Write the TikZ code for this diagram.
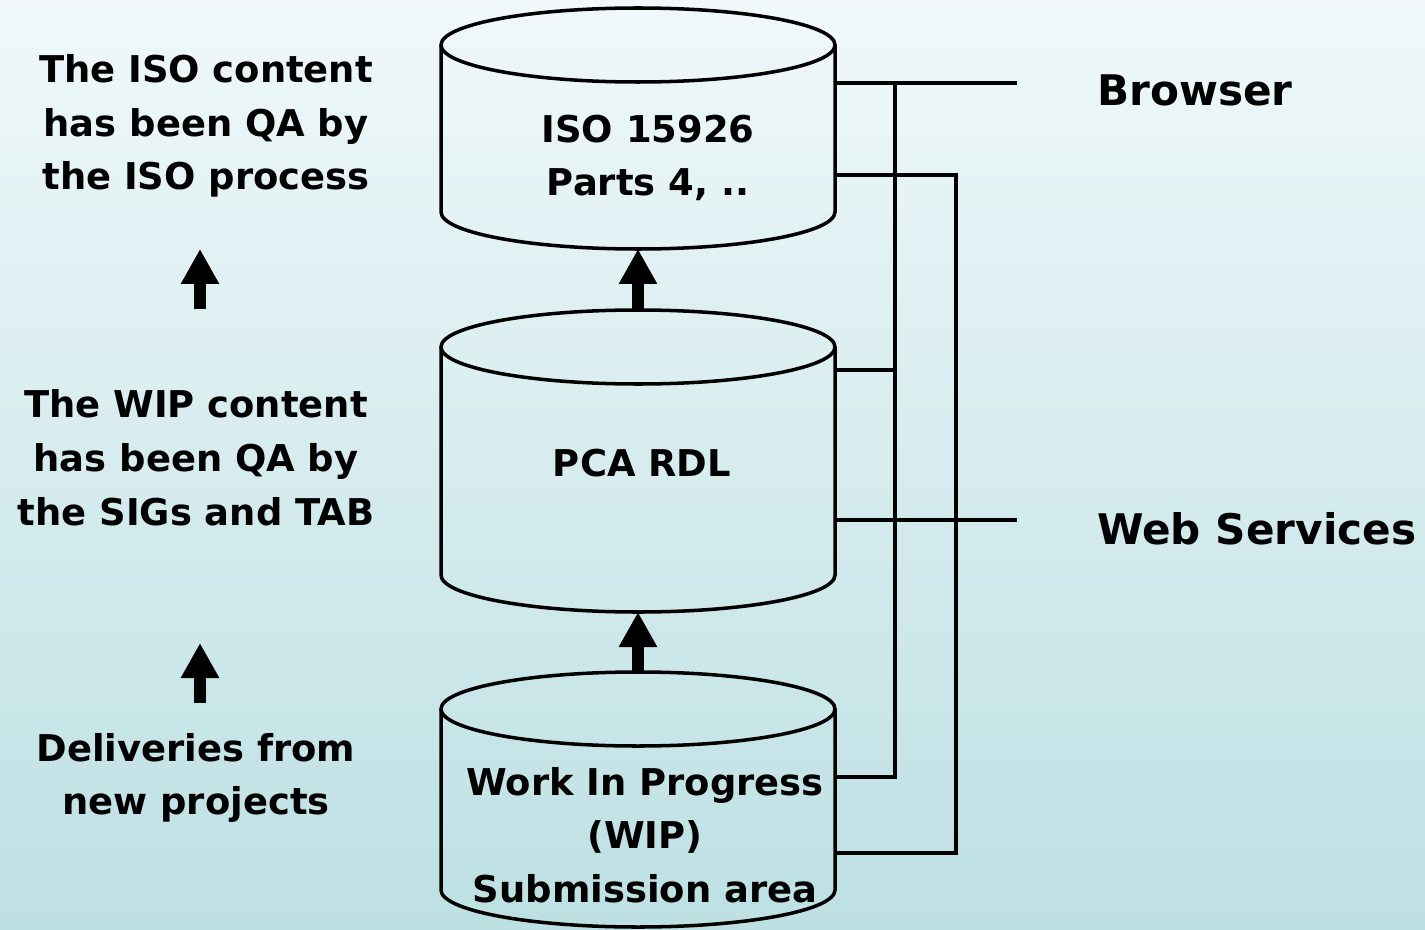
\documentclass[tikz,border=0pt]{standalone}
\usepackage{fontspec}
\setmainfont{DejaVu Sans}
\usetikzlibrary{arrows.meta}
\definecolor{bgtop}{HTML}{F0F8FA}
\definecolor{bgbot}{HTML}{BDE0E3}

\begin{document}
\begin{tikzpicture}[x=0.02cm,y=-0.02cm,
    txt/.style={font=\bfseries\fontsize{21}{30.6}\selectfont, align=center, inner sep=0pt},
    bigtxt/.style={txt, font=\bfseries\fontsize{24}{30.6}\selectfont, anchor=west},
    wire/.style={line width=2pt},
    uparrow/.style={line width=0.24cm, -{Triangle[length=0.7cm,width=0.72cm]}}]

    \shade[top color=bgtop, bottom color=bgbot] (0,0) rectangle (1425,929);
    \useasboundingbox (0,0) rectangle (1425,929);

    % the three stores
    \draw[wire] (638,45) ellipse [x radius=197, y radius=37];
    \draw[wire] (441,45) -- (441,212) arc[start angle=180, end angle=0, x radius=197, y radius=37] -- (835,45);
    \draw[wire] (638,347) ellipse [x radius=197, y radius=37];
    \draw[wire] (441,347) -- (441,575) arc[start angle=180, end angle=0, x radius=197, y radius=37] -- (835,347);
    \draw[wire] (638,709) ellipse [x radius=197, y radius=37];
    \draw[wire] (441,709) -- (441,890) arc[start angle=180, end angle=0, x radius=197, y radius=37] -- (835,709);

    \node[txt] (iso) at (648,158) {ISO 15926\\Parts 4, ..};
    \node[txt] (pca) at (642,463) {PCA RDL};
    \node[txt] (wip) at (645,835) {Work In Progress\\(WIP)\\Submission area};

    % notes on the left
    \node[txt] (isonote) at (206,126) {The ISO content\\has been QA by\\the ISO process};
    \node[txt] (wipnote) at (196,458) {The WIP content\\has been QA by\\the SIGs and TAB};
    \node[txt] (newnote) at (196,778) {Deliveries from\\new projects};

    \node[bigtxt] (brwtxt) at (1097,90) {Browser};
    \node[bigtxt] (webtxt) at (1097,529) {Web Services};

    % arrows
    \coordinate (isobot) at (638,249);
    \coordinate (pcatop) at (638,310);
    \coordinate (pcabot) at (638,612);
    \coordinate (wiptop) at (638,672);
    \draw[uparrow] (pcatop) -- (isobot);
    \draw[uparrow] (wiptop) -- (pcabot);
    \coordinate (qa1) at (200,309);
    \coordinate (qa1end) at (200,249);
    \coordinate (qa2) at (200,703);
    \coordinate (qa2end) at (200,643);
    \draw[uparrow] (qa1) -- (qa1end);
    \draw[uparrow] (qa2) -- (qa2end);

    % access lines
    \coordinate (brw) at (1017,83);
    \coordinate (web) at (1017,520);
    \coordinate (busA) at (895,0);
    \coordinate (busB) at (956,0);
    \coordinate (iso b) at (835,83);
    \coordinate (iso w) at (835,175);
    \coordinate (pca b) at (835,370);
    \coordinate (pca w) at (835,520);
    \coordinate (wip b) at (835,777);
    \coordinate (wip w) at (835,853);

    \draw[wire] (iso b) -- (brw);
    \draw[wire] (pca w) -- (web);
    \draw[wire] (iso b -| busA) -- (wip b -| busA) -- (wip b);
    \draw[wire] (pca b) -- (pca b -| busA);
    \draw[wire] (iso w) -- (iso w -| busB) -- (wip w -| busB) -- (wip w);

\end{tikzpicture}
\end{document}
